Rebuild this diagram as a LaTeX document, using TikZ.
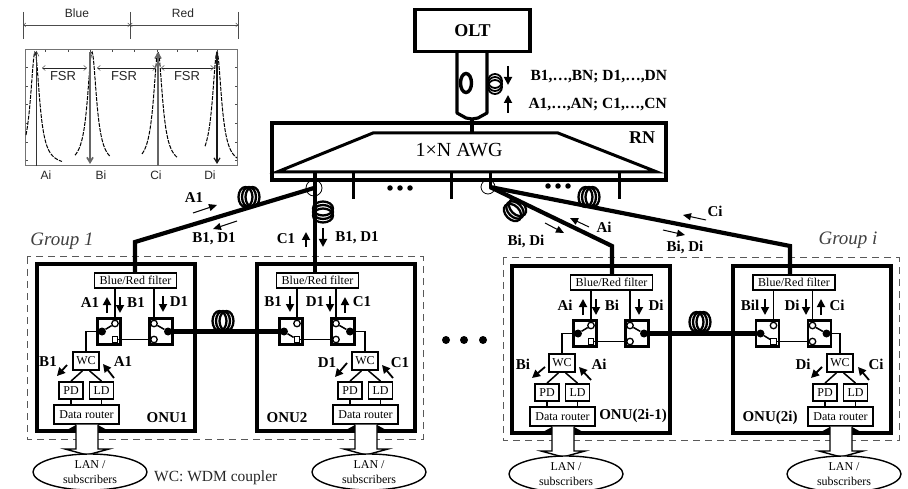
\documentclass[tikz,border=0pt]{standalone}
\usepackage{fontspec}
\setmainfont{Liberation Serif}
\newfontfamily\plotfont{Liberation Sans}
\usetikzlibrary{arrows.meta,shapes.geometric}
\newcommand{\pxfont}[1]{\fontsize{#1}{#1}\selectfont}
% one ring-stack of fibre: x, y, angle
\newcommand{\fibercoil}[3]{%
  \foreach \d in {-3.5,0,3.5}
    \draw[coilline,rotate around={#3:(#1,#2)}] (#1+\d,#2) ellipse (7 and 10);}
% name, box x, box y, filter centre, WC centre, port thrown to, pivot towards WC
\newcommand{\onu}[7]{%
  \begin{scope}[shift={(#2,#3)}]
    \node[onubox] (#1box) at (79,83.5) {};
    \node[smallbox,minimum width=82,minimum height=15,font=\pxfont{12}] (#1filt) at (#4,16.5) {Blue/Red filter};
    \node[switchbox] (#1swa) at (#4-26.5,67.5) {};
    \node[switchbox] (#1swb) at (#4+25.5,67.5) {};
    \node[port] (#1at) at (#4-20.5,59.5) {};
    \node[port,rectangle,minimum size=5.5] (#1ab) at (#4-20.5,75.5) {};
    \node[pivot] (#1pa) at (#4-33.5,67.5) {};
    \node[port] (#1bt) at (#4+18.5,59.5) {};
    \node[port] (#1bb) at (#4+18.5,75.5) {};
    \node[pivot] (#1pb) at (#4+32.5,67.5) {};
    \draw[wire] (#1filt.south -| #1at) -- (#1at);
    \draw[wire] (#1filt.south -| #1bt) -- (#1bt);
    \draw[wire] (#1ab) -- (#1bb);
    \draw[wire] (#1pa) -- (#1#6);
    \draw[wire] (#1pb) -- (#1bt);
    \node[smallbox,minimum width=26,minimum height=18] (#1wc) at (#5,97) {WC};
    \node[smallbox,minimum width=24,minimum height=17] (#1pd) at (#5-15,126.5) {PD};
    \node[smallbox,minimum width=24,minimum height=17] (#1ld) at (#5+15.5,126.5) {LD};
    \node[smallbox,minimum width=65,minimum height=19] (#1dr) at (#5+.5,150.5) {Data router};
    \draw[wire] (#1#7) -| (#1wc.north);
    \draw[wire] (#1wc.250) -- (#1pd.north);
    \draw[wire] (#1wc.290) -- (#1ld.north);
    \draw[wire] (#1pd.south) -- (#1pd.south |- #1dr.north);
    \draw[wire] (#1ld.south) -- (#1ld.south |- #1dr.north);
    \fill (#5-10,161) -- (#5-10,167) -- (#5-21,167) -- cycle;
    \fill (#5+12,161) -- (#5+12,167) -- (#5+23,167) -- cycle;
    \draw[line width=1.4,fill=white] (#5-10,160.5) -- (#5-10,185) -- (#5-21,185) -- (#5+1,191) -- (#5+23,185) -- (#5+12,185) -- (#5+12,160.5);
    \node[lan] (#1lan) at (#5+4,208) {LAN /\\[3pt]subscribers};
  \end{scope}}
\begin{document}
\begin{tikzpicture}[x=1pt,y=-1pt,
  fibre/.style={line width=4.2,line join=miter},
  trunk/.style={line width=3.2,line join=round},
  wire/.style={line width=1.5},
  coilline/.style={line width=2.3},
  onubox/.style={draw,line width=3.7,minimum width=158,minimum height=167,inner sep=0},
  smallbox/.style={draw,line width=1.8,fill=white,inner sep=0,font=\pxfont{12}},
  switchbox/.style={draw,line width=2.6,fill=white,minimum width=23,minimum height=26,inner sep=0},
  port/.style={circle,draw,line width=1.3,fill=white,minimum size=6.5,inner sep=0},
  pivot/.style={circle,fill=black,minimum size=8,inner sep=0},
  lan/.style={ellipse,draw,line width=1.4,minimum width=114,minimum height=36,inner sep=0,align=center,font=\pxfont{12},fill=white},
  lab/.style={font=\pxfont{15}\bfseries},
  toplab/.style={font=\pxfont{15.5}\bfseries,anchor=west},
  sig/.style={-{Triangle[length=8,width=8]},line width=1.8},
  slim/.style={-{Triangle[length=8,width=7]},line width=1},
  spec/.style={font=\pxfont{12}\plotfont,text=black!85},
  group/.style={draw=black!65,dash pattern=on 7pt off 5pt,line width=1},
  dotmark/.style={circle,fill=black,inner sep=0}]
  \useasboundingbox (0,0) rectangle (908,489);

  % spectrum
  \node[spec] (blue) at (77,13) {Blue};
  \node[spec] (red) at (183,13) {Red};
  \coordinate (barl) at (23.5,25);
  \coordinate (barm) at (130,25);
  \coordinate (barr) at (238,25);
  \foreach \p in {barl,barm,barr}
    \draw[black!70] ([yshift=13pt]\p) -- ([yshift=-14pt]\p);
  \draw[black!70,{Straight Barb[length=2]}-{Straight Barb[length=2]}] (barl) -- (barm);
  \draw[black!70,{Straight Barb[length=2]}-{Straight Barb[length=2]}] (barm) -- (barr);
  \draw[black!55,line width=1] (25.5,50) rectangle (237,166);
  \foreach \t in {67,86,104,123,142,160} {
    \draw[black!70] (25.5,\t) -- (28,\t);
    \draw[black!70] (237,\t) -- (234.5,\t);
  }
  \foreach \t in {45,68,90,112,134,157,177,197,217}
    \draw[black!70] (\t,50) -- (\t,52.5);
  \foreach \pk/\lo/\hi in {35/26/62,92/75/110,158/142/177,217/205/237}
    \draw[dash pattern=on 4pt off 1.2pt,line width=1,domain=\lo:\hi,samples=50,variable=\t]
      plot (\t,{166-114/(1+((\t-\pk)/5.5)^2)});
  \draw[black!80,-{Straight Barb[length=5,width=5]}] (36.5,166) -- (36.5,51);
  \draw[black!60,line width=1.7,-{Straight Barb[length=5,width=6]}] (90,52) -- (90,164);
  \draw[black!60,line width=1.7,-{Straight Barb[length=5,width=6]}] (158,166) -- (158,52);
  \draw[black!90,line width=1.2,-{Straight Barb[length=5,width=6]}] (217,52) -- (217,164);
  \foreach \xa/\xb/\xt [count=\i] in {42/87/63,97/156/124,161/214/187} {
    \coordinate (fsrl\i) at (\xa,68);
    \coordinate (fsrr\i) at (\xb,68);
    \draw[black!85,{Straight Barb[length=3,width=5]}-{Straight Barb[length=3,width=5]}] (fsrl\i) -- (fsrr\i);
    \node[spec,font=\pxfont{13}\plotfont] (fsr\i) at (\xt,76) {FSR};
  }
  \foreach \xt/\tx in {46/Ai,101/Bi,156/Ci,210/Di}
    \node[spec] (peak\tx) at (\xt,175) {\tx};

  % OLT and AWG
  \node[draw,line width=3.4,minimum width=115,minimum height=42,inner sep=0,font=\pxfont{18}\bfseries] (olt) at (472.5,30.5) {OLT};
  \node[draw,line width=3.4,minimum width=394,minimum height=57,inner sep=0] (rn) at (469,151.5) {};
  \node[font=\pxfont{18}\bfseries] (rnlab) at (642,138) {RN};
  \draw[line width=3,line join=miter] (277,172) -- (373,133) -- (558,133) -- (657,172) -- cycle;
  \node[font=\pxfont{20}] (awg) at (459,150) {1×N AWG};
  \coordinate (tapl) at (457,52);
  \coordinate (tapr) at (487,52);
  \coordinate (join) at (472,119);
  \draw[trunk] (tapl) -- (457,113) -- (466,118) -- (join) -- (478,118) -- (487,113) -- (tapr);
  \draw[trunk] (join) -- (472,133);
  \draw[coilline,line width=3.4] (466,83) ellipse (5.5 and 9.5);
  \foreach \d in {-3,0,3}
    \draw[coilline,line width=1.8] (495,84+\d) ellipse (7 and 7);
  \node[toplab] (down) at (527,77) {B1,\dots,BN; D1,\dots,DN};
  \node[toplab] (up) at (525,105) {A1,\dots,AN; C1,\dots,CN};
  \coordinate (dna) at (508,66);
  \coordinate (dnb) at (508,85);
  \coordinate (upa) at (508,113);
  \coordinate (upb) at (508,95);
  \draw[sig] (dna) -- (dnb);
  \draw[sig] (upa) -- (upb);

  % AWG output ports
  \foreach \pt/\px/\py in {a/315/198,b/353/199,c/451/199,d/490/188,e/619/199} {
    \coordinate (port\pt) at (\px,172);
    \draw[line width=3] (port\pt) -- (\px,\py);
  }
  \foreach \dx in {390,400,410}
    \node[dotmark,minimum size=5.5] (dota\dx) at (\dx,188) {};
  \foreach \dx in {548,558,568}
    \node[dotmark,minimum size=5.5] (dotb\dx) at (\dx,186) {};

  % group frames
  \draw[group] (27,257) rectangle (423,439);
  \draw[group] (503,258) rectangle (899,440);
  \node[font=\pxfont{19}\itshape,text=black!75] (groupa) at (62,241) {Group 1};
  \node[font=\pxfont{19}\itshape,text=black!75] (groupb) at (848,240) {Group i};
  \foreach \dx in {446,464,483}
    \node[dotmark,minimum size=8] (dotc\dx) at (\dx,340) {};

  % the four ONUs
  \onu{onua}{37}{264}{98.5}{49}{at}{pa}
  \onu{onub}{257}{264}{60.5}{108}{ab}{pb}
  \onu{onuc}{512}{266}{99.5}{50}{at}{pa}
  \onu{onud}{733}{266}{61}{107}{ab}{pb}

  % fibres down to the filters
  \coordinate (splita) at (314,188);
  \coordinate (splitb) at (490,187);
  \draw[fibre] (splita) -- (135,242) -- (onuafilt.north -| 135,0);
  \draw[fibre] (porta) -- (porta |- onubfilt.north);
  \draw[fibre] (splitb) -- (612,246) -- (onucfilt.north -| 612,0);
  \draw[fibre] (splitb) -- (790,246) -- (onudfilt.north -| 790,0);
  \draw[line width=.8] (splita) circle (8);
  \draw[line width=.8] (488,187) circle (7);
  \draw[fibre] (onuapb) -- (onubpa);
  \draw[fibre] (onucpb) -- (onudpa);
  \fibercoil{249}{197}{0}
  \fibercoil{323}{212}{90}
  \fibercoil{515}{210}{45}
  \fibercoil{589}{197}{0}
  \fibercoil{223}{321}{0}
  \fibercoil{700}{322}{0}

  % labels
  \foreach \lx/\ly/\lt [count=\i] in {
    90/303/A1,136/303/B1,179/302/D1,48/362/B1,123/362/A1,167/418/ONU1,
    273/302/B1,315/302/D1,362/302/C1,327/363/D1,400/363/C1,287/418/ONU2,
    565/305/Ai,612/305/Bi,656/305/Di,523/364/Bi,599/364/Ai,633/416/ONU(2i-1),
    750/305/Bil,792/305/Di,837/305/Ci,803/364/Di,876/364/Ci,770/418/ONU(2i),
    194/198/A1,214/239/{B1, D1},286/239/C1,357/238/{B1, D1},
    526/241/{Bi, Di},604/227/Ai,715/211/Ci,685/247/{Bi, Di}}
    \node[lab,inner sep=0] (lab\i) at (\lx,\ly) {\lt};

  % signal arrows
  \foreach \ax/\ay/\bx/\by [count=\i] in {
    107/313/107/297,120/297/120/313,163/296/163/312,67/365/57/376,114/378/103/364,
    290/296/290/312,330/296/330/312,345/313/345/297,347/363/335/377,393/378/382/365,
    583/315/583/299,596/299/596/315,639/299/639/315,545/367/532/378,591/380/579/367,
    765/299/765/315,806/299/806/315,821/315/821/299,822/367/811/378,869/380/858/367,
    306/247/306/232,323/228/323/247} {
    \coordinate (sa\i) at (\ax,\ay);
    \coordinate (sb\i) at (\bx,\by);
    \draw[sig] (sa\i) -- (sb\i);
  }
  \foreach \ax/\ay/\bx/\by [count=\i] in {
    193/213/217/205,237/221/213/229,589/227/570/218,545/223/564/233,
    706/220/683/215,663/230/685/235} {
    \coordinate (ta\i) at (\ax,\ay);
    \coordinate (tb\i) at (\bx,\by);
    \draw[slim] (ta\i) -- (tb\i);
  }
  \node[font=\pxfont{15.5},text=black!85,anchor=west,inner sep=0] (wdm) at (154,478) {WC: WDM coupler};
\end{tikzpicture}
\end{document}
